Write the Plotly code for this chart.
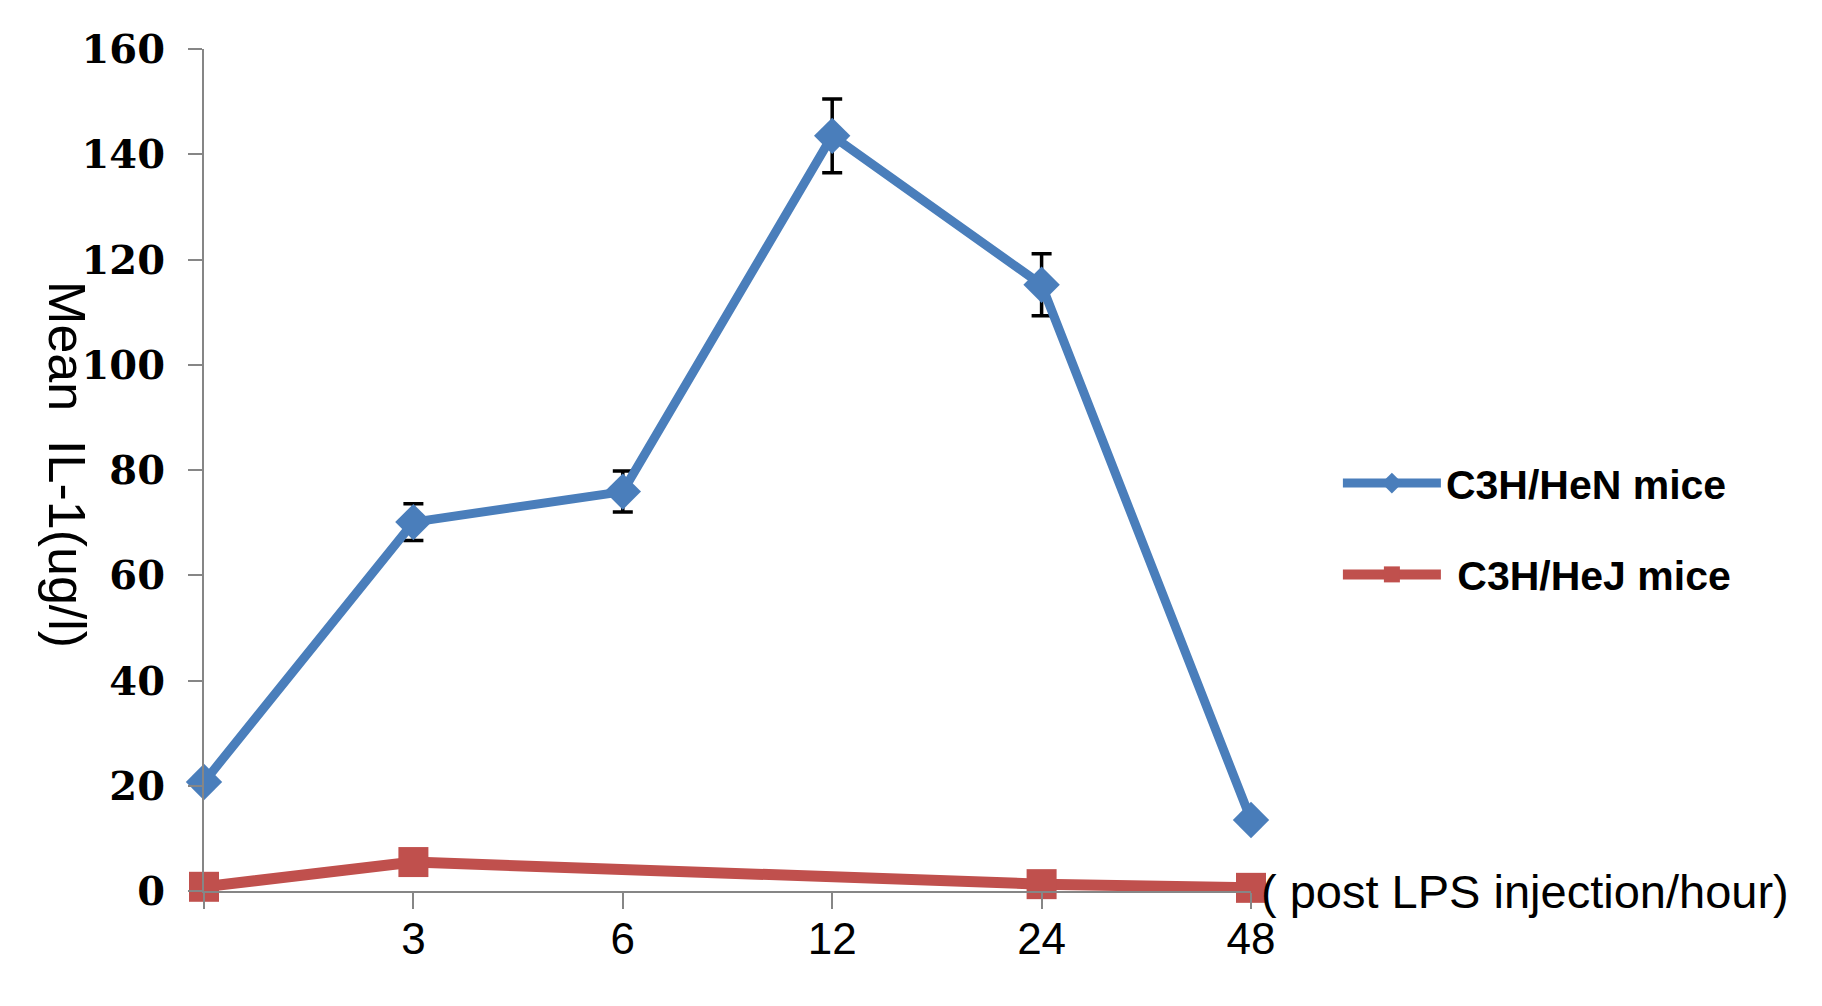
import plotly.graph_objects as go

hours = ["0", "3", "6", "12", "24", "48"]
tick_labels = ["", "3", "6", "12", "24", "48"]
hen_mean = [20.7, 70.1, 75.9, 143.5, 115.2, 13.5]
hen_err = [None, 3.5, 3.9, 7.0, 5.9, None]
hej_mean = [0.8, 5.5, None, None, 1.3, 0.6]
y_ticks = [0, 20, 40, 60, 80, 100, 120, 140, 160]

BLUE = "#4a7ebb"
RED = "#c0504d"
SANS = "Liberation Sans, Arial, sans-serif"

fig = go.Figure()
fig.add_trace(go.Scatter(
    x=hours, y=hen_mean, name="C3H/HeN mice", mode="lines+markers",
    line=dict(color=BLUE, width=9),
    marker=dict(symbol="diamond", size=28, color=BLUE),
    error_y=dict(type="data", array=hen_err, visible=True, color="black",
                 thickness=3.5, width=10),
    cliponaxis=False, legendgroup="a",
))
fig.add_trace(go.Scatter(
    x=hours, y=hej_mean, name="\u00a0C3H/HeJ mice", mode="lines+markers",
    connectgaps=True,
    line=dict(color=RED, width=11),
    marker=dict(symbol="square", size=30, color=RED),
    cliponaxis=False, legendgroup="b",
))

fig.update_layout(
    width=1806, height=990,
    margin=dict(l=196, r=563, t=41, b=107),
    plot_bgcolor="white", paper_bgcolor="white",
    showlegend=True,
    legend=dict(x=1.083, y=0.43, xanchor="left", yanchor="middle",
                font=dict(family=SANS, size=41, color="black", weight="bold"),
                itemwidth=98, tracegroupgap=35, bgcolor="rgba(0,0,0,0)"),
    xaxis=dict(type="category", categoryorder="array", categoryarray=hours,
               range=[0, 5], tickvals=hours, ticktext=tick_labels,
               showline=True, linecolor="#868686", linewidth=2,
               ticks="outside", ticklen=16, tickcolor="#868686", tickwidth=1.5,
               showgrid=False, zeroline=False, ticklabelstandoff=-8,
               tickfont=dict(family=SANS, size=44, color="black")),
    yaxis=dict(range=[0, 160], tickvals=y_ticks,
               showline=True, linecolor="#868686", linewidth=2,
               ticks="outside", ticklen=14, tickcolor="#868686", tickwidth=1.5,
               showgrid=False, zeroline=False, ticklabelstandoff=15,
               tickfont=dict(family="DejaVu Serif, serif", size=40,
                             color="black", weight="bold")),
    annotations=[
        dict(text="Mean  IL-1(ug/l)", xref="paper", yref="paper",
             x=-0.131, y=0.506, xanchor="center", yanchor="middle",
             textangle=90, showarrow=False,
             font=dict(family=SANS, size=52, color="black")),
        dict(text="( post LPS injection/hour)", xref="paper", yref="y",
             x=1.0, y=0, xanchor="left", yanchor="middle", xshift=8,
             showarrow=False,
             font=dict(family=SANS, size=47, color="black")),
    ],
)

fig.write_html("out.html")
